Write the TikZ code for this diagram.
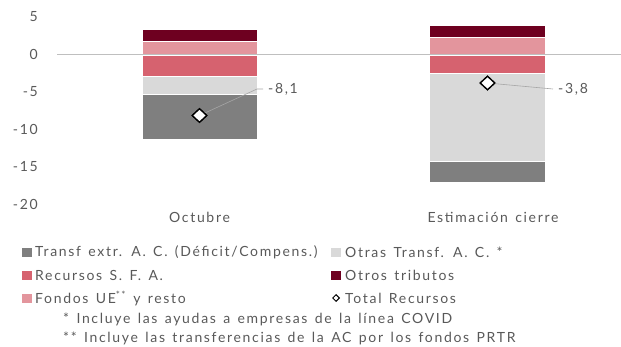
\documentclass[tikz,border=0pt]{standalone}
\usepackage{fontspec}
\setmainfont{Lato}[LetterSpace=12, WordSpace=1.4]
\usetikzlibrary{shapes.geometric}
\definecolor{txt}{HTML}{595959}
\definecolor{cdred}{HTML}{6E0020}
\definecolor{cpink}{HTML}{E3959D}
\definecolor{cred}{HTML}{D6626F}
\definecolor{clgray}{HTML}{D9D9D9}
\definecolor{cdgray}{HTML}{7F7F7F}
\definecolor{cgrid}{HTML}{BFBFBF}
\definecolor{clead}{HTML}{A6A6A6}
\tikzset{
  seg/.style={draw=white, line width=0.6pt},
  lbl/.style={text=txt, font=\fontsize{14}{16}\selectfont, inner sep=0pt},
  tick/.style={lbl, anchor=east},
  totmark/.style={diamond, draw=black, fill=white, line width=1.3pt, inner sep=0pt, minimum width=15pt, minimum height=14pt},
  legmark/.style={diamond, draw=black, fill=white, line width=1pt, inner sep=0pt, minimum width=7pt, minimum height=7pt},
  legsq/.style={inner sep=0pt, minimum width=10pt, minimum height=9pt},
  lead/.style={draw=clead, line width=0.6pt},
}
\begin{document}
\begin{tikzpicture}[x=1pt,y=-1pt]
\useasboundingbox (0,0) rectangle (621,347);
% tick labels
\node[tick] (t5)  at (38,16.5) {5};
\node[tick] (t0)  at (38,54) {0};
\node[tick] (tm5) at (38,91.5) {-5};
\node[tick] (tm10) at (38,129) {-10};
\node[tick] (tm15) at (38,166.5) {-15};
\node[tick] (tm20) at (38,204) {-20};
% bar 1
\fill[cdred,seg]  (142,29.3) rectangle (257,41);
\fill[cpink,seg]  (142,41) rectangle (257,55.7);
\fill[cred,seg]   (142,55.7) rectangle (257,76);
\fill[clgray,seg] (142,76) rectangle (257,94.3);
\fill[cdgray,seg] (142,94.3) rectangle (257,139);
% bar 2
\fill[cdred,seg]  (429,25.3) rectangle (545,37);
\fill[cpink,seg]  (429,37) rectangle (545,55.7);
\fill[cred,seg]   (429,55.7) rectangle (545,73);
\fill[clgray,seg] (429,73) rectangle (545,161.3);
\fill[cdgray,seg] (429,161.3) rectangle (545,182);
% zero line
\coordinate (z0) at (57,54);
\coordinate (z1) at (621,54);
\draw[cgrid, line width=0.8pt] (z0) -- (z1);
% totals
\node[totmark] (d1) at (199.5,115.5) {};
\node[totmark] (d2) at (487.5,83) {};
\coordinate (k1) at (257,89);
\coordinate (k1b) at (263,89);
\node[lbl, anchor=west] (v1) at (268,89) {-8,1};
\coordinate (k2) at (553,89);
\node[lbl, anchor=west] (v2) at (558,89) {-3,8};
\draw[lead] (d1.center) -- (k1) -- (k1b);
\draw[lead] (d2.center) -- (k2);
\node[totmark] at (d1) {};
\node[totmark] at (d2) {};
% categories
\node[lbl] (c1) at (199.5,217) {Octubre};
\node[lbl] (c2) at (493,217) {Estimación cierre};
% legend
\node[legsq, fill=cdgray] (s1) at (26.5,252.5) {};
\node[lbl, anchor=west] (l1) at (35,252.5) {Transf extr. A. C. (Déficit/Compens.)};
\node[legsq, fill=clgray] (s2) at (336,252.5) {};
\node[lbl, anchor=west] (l2) at (345,252.5) {Otras Transf. A. C. *};
\node[legsq, fill=cred] (s3) at (26.5,275.5) {};
\node[lbl, anchor=west] (l3) at (35,275.5) {Recursos S. F. A.};
\node[legsq, fill=cdred] (s4) at (336,275.5) {};
\node[lbl, anchor=west] (l4) at (345,275.5) {Otros tributos};
\node[legsq, fill=cpink] (s5) at (26.5,298.5) {};
\node[lbl, anchor=west] (l5) at (35,298.5) {Fondos UE\textsuperscript{**} y resto};
\node[legmark] (s6) at (336,298) {};
\node[lbl, anchor=west] (l6) at (345,298.5) {Total Recursos};
\node[lbl, anchor=west] (f1) at (63,319.5) {* Incluye las ayudas a empresas de la línea COVID};
\node[lbl, anchor=west] (f2) at (63,338.5) {** Incluye las transferencias de la AC por los fondos PRTR};
\end{tikzpicture}
\end{document}
